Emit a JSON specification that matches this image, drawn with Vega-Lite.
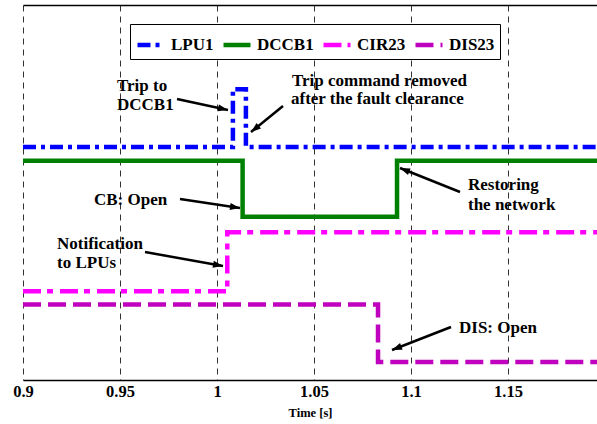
{
  "$schema": "https://vega.github.io/schema/vega-lite/v6.json",
  "width": 574,
  "height": 375,
  "autosize": {"type": "none"},
  "padding": {"left": 23, "top": 5, "right": 0, "bottom": 44},
  "background": "white",
  "config": {
    "view": {"stroke": null},
    "font": "Liberation Serif",
    "axis": {"labelFont": "Liberation Serif", "titleFont": "Liberation Serif"},
    "legend": {"labelFont": "Liberation Serif", "labelFontWeight": "bold", "labelFontSize": 17}
  },
  "datasets": {
    "series": [
      {"s": "LPU1", "i": 0, "t": 0.9, "v": 3.73},
      {"s": "LPU1", "i": 1, "t": 1.0082, "v": 3.73},
      {"s": "LPU1", "i": 2, "t": 1.0082, "v": 4.73},
      {"s": "LPU1", "i": 3, "t": 1.0149, "v": 4.73},
      {"s": "LPU1", "i": 4, "t": 1.0149, "v": 3.73},
      {"s": "LPU1", "i": 5, "t": 1.2, "v": 3.73},
      {"s": "DCCB1", "i": 0, "t": 0.9, "v": 3.49},
      {"s": "DCCB1", "i": 1, "t": 1.0132, "v": 3.49},
      {"s": "DCCB1", "i": 2, "t": 1.0132, "v": 2.52},
      {"s": "DCCB1", "i": 3, "t": 1.0928, "v": 2.52},
      {"s": "DCCB1", "i": 4, "t": 1.0928, "v": 3.49},
      {"s": "DCCB1", "i": 5, "t": 1.2, "v": 3.49},
      {"s": "CIR23", "i": 0, "t": 0.9, "v": 1.23},
      {"s": "CIR23", "i": 1, "t": 1.0053, "v": 1.23},
      {"s": "CIR23", "i": 2, "t": 1.0053, "v": 2.25},
      {"s": "CIR23", "i": 3, "t": 1.2, "v": 2.25},
      {"s": "DIS23", "i": 0, "t": 0.9, "v": 1.0},
      {"s": "DIS23", "i": 1, "t": 1.083, "v": 1.0},
      {"s": "DIS23", "i": 2, "t": 1.083, "v": 0.0},
      {"s": "DIS23", "i": 3, "t": 1.2, "v": 0.0}
    ],
    "arrows": [
      {"t1": 0.97938, "v1": 4.5606, "t2": 1.00567, "v2": 4.3699},
      {"t1": 1.03402, "v1": 4.4393, "t2": 1.01753, "v2": 3.9886},
      {"t1": 0.98093, "v1": 2.8272, "t2": 1.01185, "v2": 2.6712},
      {"t1": 1.12526, "v1": 2.9485, "t2": 1.09433, "v2": 3.3646},
      {"t1": 0.96289, "v1": 1.9086, "t2": 1.00309, "v2": 1.6658},
      {"t1": 1.12062, "v1": 0.6085, "t2": 1.09021, "v2": 0.2098}
    ],
    "notes": [
      {"label": "Trip to", "t": 0.94845, "v": 4.699},
      {"label": "DCCB1", "t": 0.94845, "v": 4.37},
      {"label": "Trip command removed", "t": 1.03866, "v": 4.786},
      {"label": "after the fault clearance", "t": 1.03814, "v": 4.474},
      {"label": "CB: Open", "t": 0.93660, "v": 2.724},
      {"label": "Restoring", "t": 1.12938, "v": 2.983},
      {"label": "the network", "t": 1.12938, "v": 2.637},
      {"label": "Notification", "t": 0.91753, "v": 1.96},
      {"label": "to LPUs", "t": 0.91753, "v": 1.632},
      {"label": "DIS: Open", "t": 1.12474, "v": 0.5045}
    ]
  },
  "resolve": {"axis": {"x": "independent"}},
  "layer": [
    {
      "data": {"name": "series"},
      "mark": {"type": "line", "clip": true, "strokeCap": "butt", "strokeJoin": "miter"},
      "encoding": {
        "x": {
          "field": "t", "type": "quantitative",
          "scale": {"domain": [0.9, 1.195876], "nice": false, "zero": false},
          "axis": {
            "values": [0.9, 0.95, 1, 1.05, 1.1, 1.15],
            "format": "~g",
            "title": "Time [s]",
            "titleFont": "Liberation Serif",
            "titleFontSize": 12.5, "titleFontWeight": "bold", "titleColor": "black", "titlePadding": 7,
            "labelFont": "Liberation Serif",
            "labelFontSize": 16.5, "labelFontWeight": "bold", "labelColor": "black", "labelPadding": 3,
            "labelFlush": false, "labelOverlap": false,
            "ticks": false,
            "domainColor": "black", "domainWidth": 1.5,
            "grid": true, "gridColor": "#333333", "gridDash": [6, 5], "gridWidth": 1, "gridOpacity": 1
          }
        },
        "y": {
          "field": "v", "type": "quantitative",
          "scale": {"domain": [-0.31, 6.19], "nice": false, "zero": false},
          "axis": {
            "values": [0, 1, 2, 3, 4, 5, 6],
            "title": null, "labels": false, "ticks": true, "tickSize": -5, "tickColor": "black",
            "domainColor": "black", "domainWidth": 2,
            "grid": true, "gridColor": "#333333", "gridDash": [6, 5], "gridWidth": 1, "gridOpacity": 1
          }
        },
        "order": {"field": "i"},
        "color": {
          "field": "s", "type": "nominal",
          "scale": {"domain": ["LPU1", "DCCB1", "CIR23", "DIS23"], "range": ["#0000FF", "#008000", "#FF00FF", "#BF00BF"]},
          "legend": {
            "title": null, "orient": "none", "legendX": 107, "legendY": 19, "direction": "horizontal", "columns": 4,
            "symbolType": "stroke", "symbolSize": 729, "symbolStrokeWidth": 4.5,
            "labelFont": "Liberation Serif", "labelFontSize": 17, "labelFontWeight": "bold", "labelColor": "black",
            "labelOffset": 4, "columnPadding": 0, "padding": 5,
            "strokeColor": "black", "fillColor": "white", "cornerRadius": 0
          }
        },
        "strokeDash": {
          "field": "s", "type": "nominal",
          "scale": {"domain": ["LPU1", "DCCB1", "CIR23", "DIS23"], "range": [[13, 5, 4, 5], [1, 0], [18, 6, 6, 7], [18, 7]]},
          "legend": {
            "title": null, "orient": "none", "legendX": 107, "legendY": 19, "direction": "horizontal", "columns": 4,
            "symbolType": "stroke", "symbolSize": 729, "symbolStrokeWidth": 4.5,
            "labelFont": "Liberation Serif", "labelFontSize": 17, "labelFontWeight": "bold", "labelColor": "black",
            "labelOffset": 4, "columnPadding": 0, "padding": 5,
            "strokeColor": "black", "fillColor": "white", "cornerRadius": 0
          }
        },
        "strokeWidth": {
          "field": "s", "type": "nominal",
          "scale": {"domain": ["LPU1", "DCCB1", "CIR23", "DIS23"], "range": [4.5, 4.5, 6.5, 6]},
          "legend": null
        }
      }
    },
    {
      "data": {"name": "series"},
      "mark": {"type": "rule", "opacity": 0},
      "encoding": {
        "x": {
          "field": "t", "type": "quantitative",
          "axis": {"orient": "top", "labels": false, "ticks": false, "grid": false, "title": null, "domainColor": "black", "domainWidth": 1.5}
        }
      }
    },
    {
      "data": {"name": "arrows"},
      "mark": {"type": "rule", "color": "black", "strokeWidth": 2.5},
      "encoding": {
        "x": {"field": "t1", "type": "quantitative", "axis": null},
        "y": {"field": "v1", "type": "quantitative", "axis": null},
        "x2": {"field": "t2"},
        "y2": {"field": "v2"}
      }
    },
    {
      "data": {"name": "arrows"},
      "transform": [
        {"calculate": "atan2((datum.t2 - datum.t1) * 1940, (datum.v2 - datum.v1) * 57.69) * 180 / PI", "as": "ang"}
      ],
      "mark": {"type": "point", "filled": true, "color": "black", "opacity": 1, "shape": "M0,0 L-0.35,1 L0.35,1 Z", "size": 400},
      "encoding": {
        "x": {"field": "t2", "type": "quantitative", "axis": null},
        "y": {"field": "v2", "type": "quantitative", "axis": null},
        "angle": {"field": "ang", "type": "quantitative", "scale": null}
      }
    },
    {
      "data": {"name": "notes"},
      "mark": {"type": "text", "font": "Liberation Serif", "fontSize": 17, "fontWeight": "bold", "align": "left", "baseline": "alphabetic", "color": "black"},
      "encoding": {
        "x": {"field": "t", "type": "quantitative", "axis": null},
        "y": {"field": "v", "type": "quantitative", "axis": null},
        "text": {"field": "label"}
      }
    }
  ]
}
